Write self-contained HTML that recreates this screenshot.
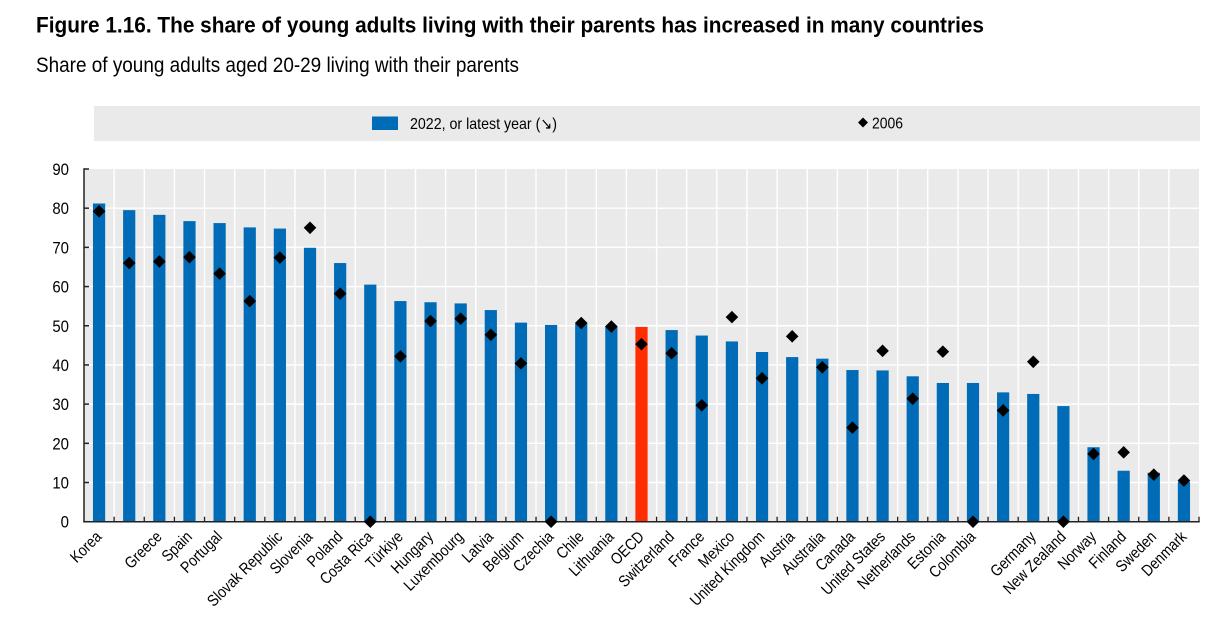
<!DOCTYPE html>
<html lang="en">
<head>
<meta charset="utf-8">
<title>Figure 1.16</title>
<style>
html,body{margin:0;padding:0;background:#fff;width:1230px;height:630px;overflow:hidden}
svg{display:block;font-family:"Liberation Sans",Arial,sans-serif}
</style>
</head>
<body>
<svg id="chart" width="1230" height="630" viewBox="0 0 1230 630" xmlns="http://www.w3.org/2000/svg">
  <text x="36" y="32.5" font-size="22" font-weight="700" fill="#000" textLength="948" lengthAdjust="spacingAndGlyphs">Figure 1.16. The share of young adults living with their parents has increased in many countries</text>
  <text x="36" y="72" font-size="21" fill="#000" textLength="483" lengthAdjust="spacingAndGlyphs">Share of young adults aged 20-29 living with their parents</text>
  <rect x="94" y="106" width="1106" height="35" fill="#eaeaea"/>
  <g>
    <rect x="372" y="116.5" width="26" height="13.5" fill="#006bb6"/>
    <text x="410" y="129" font-size="16" fill="#000" textLength="147" lengthAdjust="spacingAndGlyphs">2022, or latest year (↘)</text>
  </g>
  <g>
    <path d="M863 117.5 L868 122.5 L863 127.5 L858 122.5 Z" fill="#000"/>
    <text x="872" y="128.5" font-size="16" fill="#000" textLength="31" lengthAdjust="spacingAndGlyphs">2006</text>
  </g>
  <g id="plot"></g>
</svg>
<script>
var categories = ["Korea","","Greece","Spain","Portugal","","Slovak Republic","Slovenia","Poland","Costa Rica","Türkiye","Hungary","Luxembourg","Latvia","Belgium","Czechia","Chile","Lithuania","OECD","Switzerland","France","Mexico","United Kingdom","Austria","Australia","Canada","United States","Netherlands","Estonia","Colombia","","Germany","New Zealand","Norway","Finland","Sweden","Denmark"];
var values2022 = [81.2,79.5,78.3,76.7,76.2,75.1,74.8,69.9,66,60.5,56.3,56,55.7,54,50.8,50.2,50.5,49.8,49.7,48.9,47.5,46,43.3,42,41.6,38.7,38.6,37.1,35.4,35.4,33,32.6,29.5,19,13,12.5,10.2];
var values2006 = [79.2,66,66.4,67.5,63.3,56.3,67.4,75,58.2,0,42.2,51.2,51.8,47.7,40.4,0,50.7,49.8,45.3,43,29.7,52.2,36.6,47.3,39.4,24,43.6,31.4,43.4,0,28.4,40.8,0,17.3,17.7,12,10.5];
var yTicks = [0,10,20,30,40,50,60,70,80,90];
var highlightCategory = "OECD";

var NS = "http://www.w3.org/2000/svg";
var plot = document.getElementById("plot");
var left = 84, right = 1199, top_ = 169, bottom = 521.7;
var band = (right - left) / categories.length;
var yMax = 90;
function xPos(i){ return left + band * (i + 0.5); }
function xEdge(i){ return left + band * i; }
function yPos(v){ return bottom - (v / yMax) * (bottom - top_); }
function make(tag, attrs){
  var el = document.createElementNS(NS, tag);
  for (var k in attrs){ el.setAttribute(k, attrs[k]); }
  plot.appendChild(el);
  return el;
}

var bg = make("rect", {x:left, y:top_, width:right-left, height:bottom-top_, fill:"#eaeaea"});



yTicks.forEach(function(t){
  if (t > 0 && t < yMax){
    var g = make("line", {x1:left, x2:right, y1:yPos(t), y2:yPos(t), stroke:"#fff", "stroke-width":1.4});
    
    
  }
});
categories.forEach(function(c, i){
  if (i > 0){
    var g = make("line", {x1:xEdge(i), x2:xEdge(i), y1:top_, y2:bottom, stroke:"#fff", "stroke-width":1.4});
    
    
  }
});

var barWidth = 12.2;
values2022.forEach(function(v, i){
  var b = make("rect", {x:xPos(i)-barWidth/2, y:yPos(v), width:barWidth, height:bottom-yPos(v), fill: categories[i] === highlightCategory ? "#ff2d00" : "#006bb6"});
  
  
});

var yAxis = make("line", {x1:left, x2:left, y1:top_-0.7, y2:bottom+0.7, stroke:"#222", "stroke-width":1.5});


var xAxis = make("line", {x1:left-0.7, x2:right+0.7, y1:bottom, y2:bottom, stroke:"#222", "stroke-width":1.5});



yTicks.forEach(function(t){
  var tk = make("line", {x1:left, x2:left+5, y1:yPos(t), y2:yPos(t), stroke:"#222", "stroke-width":1.5});
  
  
  var tx = left - 15, ty = yPos(t) + 6;
  var lb = make("text", {x:0, y:0, "font-size":17, "text-anchor":"end", fill:"#000", transform:"translate("+tx+" "+ty+") scale(0.88 1)"});
  lb.textContent = t;
  
  
});
for (var e = 1; e <= categories.length; e++){
  var xt = make("line", {x1:xEdge(e), x2:xEdge(e), y1:bottom-5, y2:bottom, stroke:"#222", "stroke-width":1.3});
  
  
}

values2006.forEach(function(v, i){
  var cx = xPos(i), cy = yPos(v), r = 6.3;
  var d = make("path", {d:"M"+cx+" "+(cy-r)+" L"+(cx+r)+" "+cy+" L"+cx+" "+(cy+r)+" L"+(cx-r)+" "+cy+" Z", fill:"#000"});
  
  
});

categories.forEach(function(c, i){
  if (!c) return;
  var lx = xPos(i) + 3.5, ly = bottom + 16;
  var t = make("text", {x:0, y:0, "font-size":16, "text-anchor":"end", fill:"#000", transform:"translate("+lx+" "+ly+") rotate(-45) scale(0.86 1)"});
  t.textContent = c;
  
  
});
</script>
</body>
</html>
